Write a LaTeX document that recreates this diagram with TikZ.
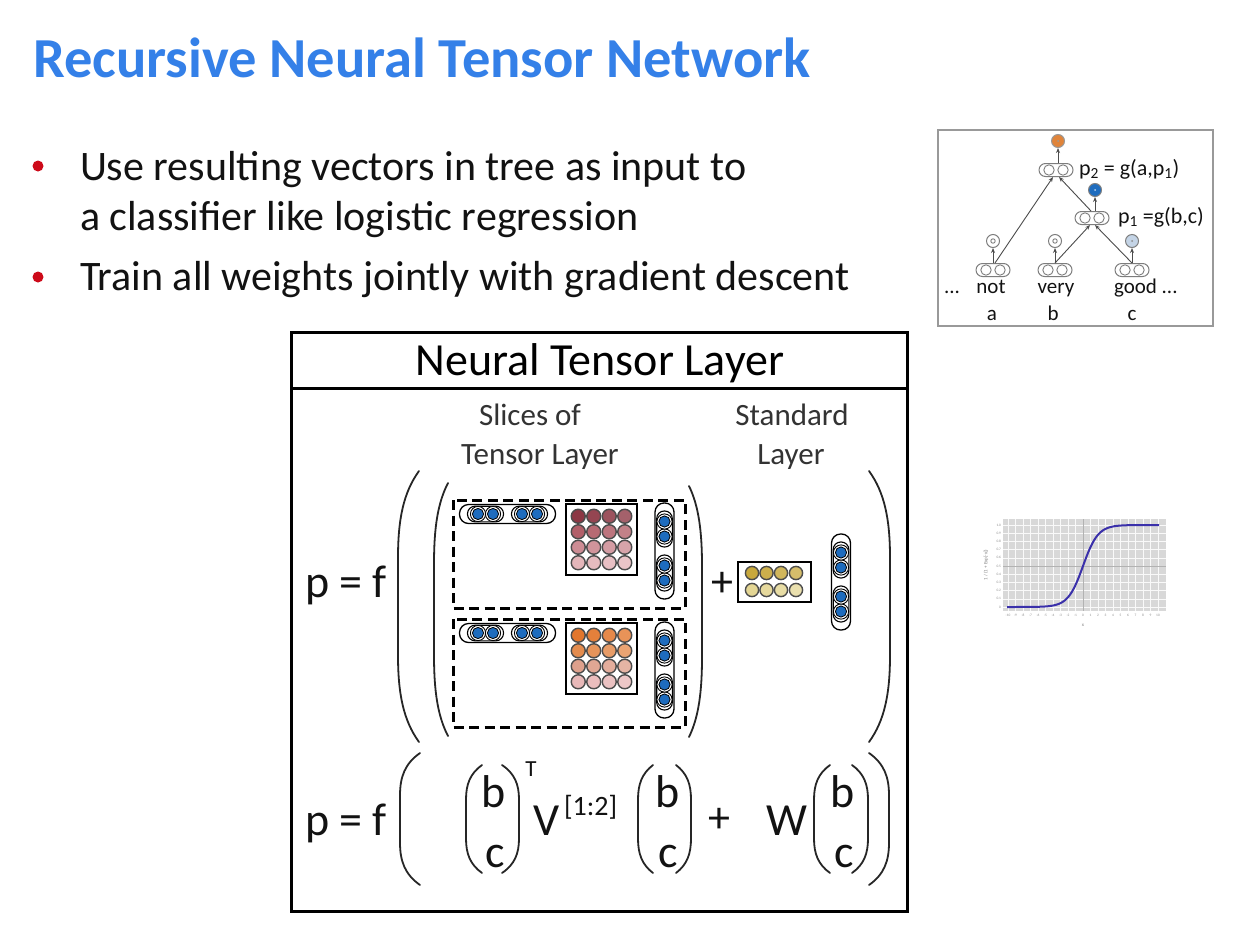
\documentclass[tikz,border=0pt]{standalone}
\usepackage{fontspec}
\setmainfont{Carlito}
\usetikzlibrary{arrows.meta}

\definecolor{titleblue}{RGB}{52,128,232}
\definecolor{bulletred}{RGB}{205,10,25}
\definecolor{ink}{RGB}{18,18,18}
\definecolor{dotblue}{RGB}{30,108,190}
\definecolor{treegray}{RGB}{125,125,125}
\definecolor{redA}{RGB}{140,55,68}
\definecolor{redB}{RGB}{178,95,105}
\definecolor{redC}{RGB}{205,140,148}
\definecolor{redD}{RGB}{228,182,186}
\definecolor{orA}{RGB}{226,118,44}
\definecolor{orB}{RGB}{228,140,78}
\definecolor{orC}{RGB}{222,160,140}
\definecolor{orD}{RGB}{232,184,184}
\definecolor{yelA}{RGB}{200,168,60}
\definecolor{yelB}{RGB}{228,214,148}
\definecolor{plotgray}{RGB}{216,216,216}
\definecolor{curveblue}{RGB}{58,48,170}

\newcommand{\setfs}[1]{\fontsize{#1}{#1}\selectfont}

% tall round brackets: x-left, x-right, y-top, y-bottom
\newcommand{\myLpar}[4]{%
  \draw[parstroke] (#2,#3) .. controls ({#1+0.25*(#2-#1)},{#3+0.08*(#4-#3)}) and (#1,{#3+0.18*(#4-#3)}) .. (#1,{#3+0.32*(#4-#3)})
    -- (#1,{#4-0.32*(#4-#3)}) .. controls (#1,{#4-0.18*(#4-#3)}) and ({#1+0.25*(#2-#1)},{#4-0.08*(#4-#3)}) .. (#2,#4);}
\newcommand{\myRpar}[4]{%
  \draw[parstroke] (#1,#3) .. controls ({#2-0.25*(#2-#1)},{#3+0.08*(#4-#3)}) and (#2,{#3+0.18*(#4-#3)}) .. (#2,{#3+0.32*(#4-#3)})
    -- (#2,{#4-0.32*(#4-#3)}) .. controls (#2,{#4-0.18*(#4-#3)}) and ({#2-0.25*(#2-#1)},{#4-0.08*(#4-#3)}) .. (#1,#4);}

% 4x4 weight matrix: centre x, centre y, four row colours
\newcommand{\drawmat}[6]{%
  \draw[line width=2.2pt, fill=white] ({#1-35.5},{#2-35.5}) rectangle ({#1+35.5},{#2+35.5});
  \foreach \mrow/\mclr in {0/#3,1/#4,2/#5,3/#6}{
    \foreach \mcol in {0,1,2,3}{
      \pgfmathtruncatemacro{\mpct}{100-7*\mcol}
      \draw[mcirc, fill=\mclr!\mpct!white] ({#1-23.25+15.5*\mcol},{#2-23.25+15.5*\mrow}) circle[radius=7pt];
    }
  }}

\tikzset{
  txt/.style={inner sep=0pt, outer sep=0pt, text=ink},
  parstroke/.style={line width=1.8pt, draw=black!85, line cap=round},
  dashbox/.style={line width=3pt, dash pattern=on 10pt off 5.5pt},
  mcirc/.style={draw=black!70, line width=1.4pt},
  tpill/.style={rectangle, rounded corners=6.5pt, minimum width=34pt, minimum height=13pt,
    draw=treegray, line width=1pt, inner sep=0pt},
  tcirc/.style={draw=treegray, line width=0.9pt},
  tnode/.style={circle, minimum size=13pt, inner sep=0pt, draw=treegray, line width=1pt},
  tarr/.style={-{Stealth[length=5pt,width=4pt]}, draw=black!70, line width=0.9pt},
  vecpill/.pic={
    \draw[line width=1.3pt, fill=white, rounded corners=9pt] (-48,-9.5) rectangle (48,9.5);
    \draw[line width=1.1pt, rounded corners=7.5pt] (-40,-7.8) rectangle (-4,7.8);
    \draw[line width=1.1pt, rounded corners=7.5pt] (4,-7.8) rectangle (40,7.8);
    \foreach \d in {-29.5,-14.5,14.5,29.5}{
      \draw[line width=0.9pt, fill=white] (\d,0) circle[radius=7.6pt];
      \draw[line width=0.8pt, fill=dotblue] (\d,0) circle[radius=5.6pt];
    }
  },
}

\begin{document}
\begin{tikzpicture}[x=1pt,y=-1pt]
\useasboundingbox (0,0) rectangle (1238,926);
\fill[white] (0,0) rectangle (1238,926);

% ---------- title and bullets ----------
\node[txt, anchor=base west, text=titleblue, font=\setfs{56.5}\bfseries] (title) at (33,77) {Recursive Neural Tensor Network};

\fill[bulletred] (38,166) circle[radius=5.5pt];
\fill[bulletred] (38,277) circle[radius=5.5pt];
\node[txt, anchor=base west, font=\setfs{42}] (b1a) at (80,180) {Use resulting vectors in tree as input to};
\node[txt, anchor=base west, font=\setfs{42}] (b1b) at (80,230) {a classifier like logistic regression};
\node[txt, anchor=base west, font=\setfs{42}] (b2) at (80,290) {Train all weights jointly with gradient descent};

% ---------- parse tree ----------
\draw[draw=black!40, line width=1.3pt] (938,130) rectangle (1213,326);

\node[tpill] (la) at (993,270) {};
\node[tpill] (lb) at (1055,270) {};
\node[tpill] (lc) at (1132,270) {};
\node[tpill] (p1) at (1092,218) {};
\node[tpill] (p2) at (1056,170) {};
\foreach \n in {la,lb,lc,p1,p2}{
  \draw[tcirc] ([xshift=-7pt]\n.center) circle[radius=5.2pt];
  \draw[tcirc] ([xshift=7pt]\n.center) circle[radius=5.2pt];
}

\node[tnode] (ca) at (993,241) {};
\node[tnode] (cb) at (1055,241) {};
\node[tnode, fill={rgb,255:red,196;green,212;blue,230}] (cc) at (1132,241) {};
\node[tnode, fill=dotblue, draw=black!50] (cp1) at (1095,190) {};
\node[tnode, fill={rgb,255:red,224;green,132;blue,58}, draw=black!40] (cp2) at (1058,141) {};
\draw[tcirc] (ca.center) circle[radius=2.2pt];
\draw[tcirc] (cb.center) circle[radius=2.2pt];
\fill[black!45] (cc.center) circle[radius=1pt];
\fill[white!70!dotblue] (cp1.center) circle[radius=1pt];
\fill[black!40] (cp2.center) circle[radius=1pt];

\draw[tarr] (la.north) -- (ca.south);
\draw[tarr] (lb.north) -- (cb.south);
\draw[tarr] (lc.north) -- (cc.south);
\draw[tarr] ([xshift=3pt]p1.north) -- (cp1.south);
\draw[tarr] ([xshift=2pt]p2.north) -- (cp2.south);
\draw[tarr] ([xshift=2pt]la.north) -- ([xshift=-3pt]p2.south);
\draw[tarr] ([xshift=-1pt]p1.north) -- ([xshift=3pt]p2.south);
\draw[tarr] (lb.north) -- ([xshift=-2pt]p1.south);
\draw[tarr] (lc.north) -- ([xshift=3pt]p1.south);

\node[txt, anchor=base west, font=\setfs{22}] (p2lab) at (1079,175) {p\textsubscript{2} = g(a,p\textsubscript{1})};
\node[txt, anchor=base west, font=\setfs{22}] (p1lab) at (1118,223) {p\textsubscript{1} =g(b,c)};
\node[txt, anchor=base west, font=\setfs{21}] (wdots) at (944,293) {...};
\node[txt, anchor=base, font=\setfs{21}] (wnot) at (991,293) {not};
\node[txt, anchor=base, font=\setfs{21}] (wvery) at (1056,293) {very};
\node[txt, anchor=base west, font=\setfs{21}] (wgood) at (1114,293) {good ...};
\node[txt, anchor=base, font=\setfs{21}] (va) at (992,320) {a};
\node[txt, anchor=base, font=\setfs{21}] (vb) at (1053,320) {b};
\node[txt, anchor=base, font=\setfs{21}] (vc) at (1132,320) {c};

% ---------- logistic curve ----------
\fill[plotgray] (1003,519) rectangle (1166,611);
\foreach \i in {-10,...,10}{
  \draw[white!85!plotgray, line width=0.5pt] ({1083+7.5*\i},519) -- ({1083+7.5*\i},611);
}
\foreach \j in {0,...,10}{
  \draw[white!85!plotgray, line width=0.5pt] (1003,{607-8.2*\j}) -- (1166,{607-8.2*\j});
}
\draw[black!30, line width=0.7pt] (1083,519) -- (1083,611);
\draw[black!30, line width=0.7pt] (1003,566) -- (1166,566);
\draw[curveblue, line width=2pt] (1007,607) -- plot[domain=-9.5:9.5, samples=120, variable=\t] ({1083+7.5*\t},{607-82/(1+exp(-\t))}) -- (1159,525);
\foreach \j/\lab in {0/0,1/0.1,2/0.2,3/0.3,4/0.4,5/0.5,6/0.6,7/0.7,8/0.8,9/0.9,10/1.0}{
  \node[txt, anchor=east, text=black!45, font=\setfs{3.5}] (yt\j) at (1001,{607-8.2*\j}) {\lab};
}
\foreach \i in {-10,...,10}{
  \node[txt, anchor=north, text=black!45, font=\setfs{3.5}] (xt\i) at ({1083+7.5*\i},614) {\i};
}
\node[txt, rotate=90, text=black!50, font=\setfs{5}] (ylab) at (986,565) {1 / (1 + Exp[-x])};
\node[txt, text=black!50, font=\setfs{5}] (xlab) at (1083,625) {x};

% ---------- neural tensor layer panel ----------
\draw[line width=3pt] (291,332) rectangle (907,911);
\draw[line width=3pt] (291,388) -- (907,388);
\node[txt, anchor=base, font=\setfs{46}, text=black] (ntl) at (600,375) {Neural Tensor Layer};

\node[txt, anchor=base, font=\setfs{31}, text=black!80] (slA) at (530,425) {Slices of};
\node[txt, anchor=base, font=\setfs{31}, text=black!80] (slB) at (540,464) {Tensor Layer};
\node[txt, anchor=base, font=\setfs{31}, text=black!80] (stA) at (792,425) {Standard};
\node[txt, anchor=base, font=\setfs{31}, text=black!80] (stB) at (791,464) {Layer};

% pictorial equation
\node[txt, anchor=base west, font=\setfs{46}] (pfA) at (305,597) {p = f};
\myLpar{398}{419}{471}{742}
\myRpar{869}{890}{471}{742}
\myLpar{434}{448}{483}{736}
\myRpar{689}{702}{486}{737}

\draw[dashbox] (453,500) rectangle (685,608);
\draw[dashbox] (453,619) rectangle (685,727);

% first slice
\pic at (507.5,514) {vecpill};
\drawmat{601.5}{539.5}{redA}{redB}{redC}{redD}
\pic[rotate=90] at (664.5,551) {vecpill};
% second slice
\pic at (507.5,633) {vecpill};
\drawmat{601.5}{658.5}{orA}{orB}{orC}{orD}
\pic[rotate=90] at (664.5,670) {vecpill};

\node[txt, font=\setfs{44}] (plusA) at (722,584) {+};

% standard layer weights and input
\draw[line width=2.2pt, fill=white] (738,562) rectangle (811,602);
\foreach \c/\x in {0/752,1/766.5,2/781,3/796}{
  \pgfmathtruncatemacro{\ypct}{100-8*\c}
  \draw[mcirc, fill=yelA!\ypct!white] (\x,573) circle[radius=6.6pt];
  \draw[mcirc, fill=yelB!\ypct!white] (\x,590) circle[radius=6.6pt];
}
\pic[rotate=90] at (841,582) {vecpill};

% symbolic equation
\node[txt, anchor=base west, font=\setfs{46}] (pfB) at (305,835) {p = f};
\myLpar{400}{420}{753}{885}
\myRpar{869}{889}{753}{885}

\myLpar{466}{482}{765}{873}
\myRpar{502}{519}{765}{873}
\node[txt, anchor=base, font=\setfs{46}] (b1) at (494,807) {b};
\node[txt, anchor=base, font=\setfs{46}] (c1) at (495,867) {c};
\node[txt, font=\setfs{23}] (tT) at (531,769) {T};
\node[txt, anchor=base west, font=\setfs{46}] (vV) at (533,835) {V};
\node[txt, anchor=base west, font=\setfs{28}] (vidx) at (564,815) {[1:2]};

\myLpar{638}{653}{765}{873}
\myRpar{676}{691}{765}{873}
\node[txt, anchor=base, font=\setfs{46}] (b2n) at (668,807) {b};
\node[txt, anchor=base, font=\setfs{46}] (c2) at (668,867) {c};

\node[txt, font=\setfs{44}] (plusB) at (719,820) {+};
\node[txt, anchor=base west, font=\setfs{46}] (wW) at (766,835) {W};

\myLpar{814}{830}{765}{873}
\myRpar{852}{868}{765}{873}
\node[txt, anchor=base, font=\setfs{46}] (b3) at (843,807) {b};
\node[txt, anchor=base, font=\setfs{46}] (c3) at (844,867) {c};
\end{tikzpicture}
\end{document}
